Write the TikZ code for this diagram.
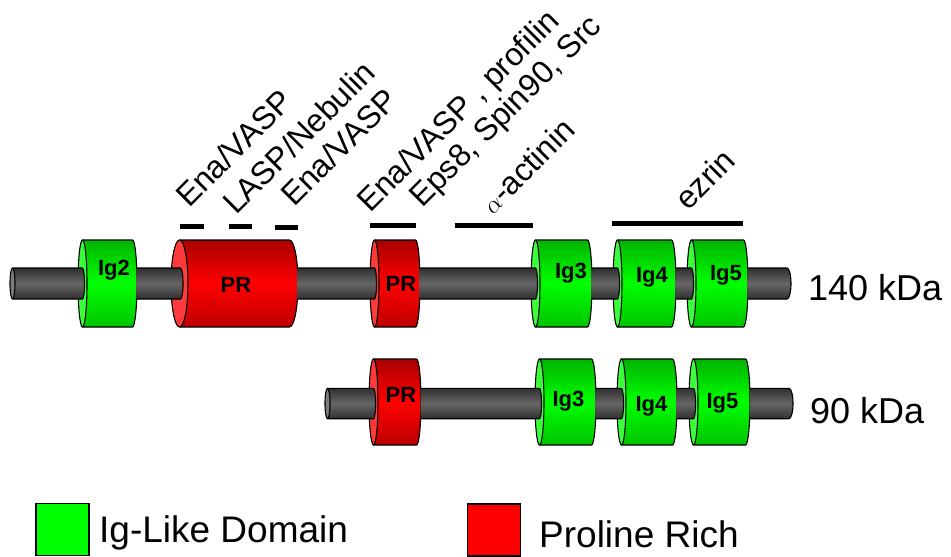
\documentclass[tikz,border=0pt]{standalone}
\usepackage{fontspec}
\setmainfont{Liberation Sans}

% palette
\definecolor{cIgFace}{HTML}{3CFF3C}
\definecolor{cIgTop}{HTML}{00B400}
\definecolor{cIgMid}{HTML}{00FF00}
\definecolor{cIgBot}{HTML}{00C400}
\definecolor{cPrFace}{HTML}{FF3A3A}
\definecolor{cPrTop}{HTML}{A80000}
\definecolor{cPrMid}{HTML}{FF0000}
\definecolor{cPrBot}{HTML}{BC0000}
\definecolor{cRodDark}{HTML}{303030}
\definecolor{cRodMid}{HTML}{666666}
\definecolor{cRodEnd}{HTML}{7C7C7C}

\tikzset{
  outl/.style={draw=black, line width=1.1pt, line join=round},
  igbody/.style={outl, top color=cIgTop, bottom color=cIgBot, middle color=cIgMid},
  igface/.style={outl, fill=cIgFace},
  prbody/.style={outl, top color=cPrTop, bottom color=cPrBot, middle color=cPrMid},
  prface/.style={outl, fill=cPrFace},
  rodfill/.style={top color=cRodDark, bottom color=cRodDark, middle color=cRodMid},
  rodface/.style={outl, fill=cRodEnd},
  bar/.style={line width=5pt},
  domlabel/.style={inner sep=0pt, font=\fontsize{22}{25}\selectfont\bfseries},
  partner/.style={inner sep=0pt, rotate=45, anchor=base west, font=\fontsize{32}{36}\selectfont},
  sizelabel/.style={inner sep=0pt, anchor=base west, font=\fontsize{36}{40}\selectfont},
  keylabel/.style={inner sep=0pt, anchor=base west, font=\fontsize{37}{41}\selectfont},
  legendbox/.style={draw=black, line width=1.3pt, minimum width=53pt, minimum height=52pt, inner sep=0pt},
}

% a domain cylinder: kind, left face x, right face x, centre y, half height, face x radius
\newcommand\domaincyl[6]{%
  \path[#1body] (#2,#4-#5) -- (#3,#4-#5)
    arc[start angle=90, end angle=-90, x radius=#6pt, y radius=#5pt]
    -- (#2,#4+#5) -- cycle;
  \path[#1face] (#2,#4) ellipse[x radius=#6pt, y radius=#5pt];
}

% a piece of the backbone rod: start x, end x, centre y, half thickness, end-cap x radius
\newcommand\rodpiece[5]{%
  \path[rodfill] (#1,#3-#4) -- (#2,#3-#4)
    arc[start angle=90, end angle=-90, x radius=#5pt, y radius=#4pt]
    -- (#1,#3+#4) -- cycle;
  \draw[outl] (#1,#3-#4) -- (#2,#3-#4)
    arc[start angle=90, end angle=-90, x radius=#5pt, y radius=#4pt]
    -- (#1,#3+#4);
}

\begin{document}
\begin{tikzpicture}[x=1pt, y=-1pt]
\useasboundingbox (0,0) rectangle (951,557);

% ---------------- 140 kDa isoform ----------------
\domaincyl{ig}{82.5}{132.5}{283.5}{43.5}{4.5}
\domaincyl{pr}{179.5}{289.5}{283.5}{43.5}{8.5}
\domaincyl{pr}{374.5}{415.5}{283.5}{43.5}{4.5}
\domaincyl{ig}{535.5}{587.5}{283.5}{43.5}{4.5}
\domaincyl{ig}{617.5}{671.5}{283.5}{43.5}{4.5}
\domaincyl{ig}{691.5}{743.5}{283.5}{43.5}{4.5}

\rodpiece{12.5}{82.5}{283.5}{15.5}{2}
\path[rodface] (12.5,283.5) ellipse[x radius=2.5pt, y radius=15.5pt];
\rodpiece{136.7}{180.5}{283.5}{15.5}{2.5}
\rodpiece{297.4}{374.5}{283.5}{15.5}{2}
\rodpiece{419.7}{535.5}{283.5}{15.5}{2}
\rodpiece{591.7}{617.5}{283.5}{15.5}{2}
\rodpiece{675.7}{691.5}{283.5}{15.5}{2}
\rodpiece{747.7}{787}{283.5}{15.5}{4}

\node[domlabel] (a-ig2) at (114,270.5) {Ig2};
\node[domlabel] (a-pr1) at (236,284.5) {PR};
\node[domlabel] (a-pr2) at (401,283.5) {PR};
\node[domlabel] (a-ig3) at (571,273) {Ig3};
\node[domlabel] (a-ig4) at (652,277) {Ig4};
\node[domlabel] (a-ig5) at (726,275) {Ig5};

\node[sizelabel] (a-size) at (808,300) {140 kDa};

% ---------------- 90 kDa isoform ----------------
\domaincyl{pr}{373.5}{416.5}{402}{43}{4.5}
\domaincyl{ig}{539.5}{591.5}{402}{43}{4.5}
\domaincyl{ig}{621.5}{672.5}{402}{43}{4.5}
\domaincyl{ig}{693.5}{745.5}{402}{43}{4.5}

\rodpiece{327.5}{373.5}{403.5}{15.2}{2}
\path[rodface] (327.5,403.5) ellipse[x radius=2.5pt, y radius=15.2pt];
\rodpiece{420.7}{539.5}{403.5}{15.2}{2}
\rodpiece{595.7}{621.5}{403.5}{15.2}{2}
\rodpiece{676.7}{693.5}{403.5}{15.2}{2}
\rodpiece{749.7}{789}{403.5}{15.2}{4}

\node[domlabel] (b-pr)  at (401,395) {PR};
\node[domlabel] (b-ig3) at (568.5,401.5) {Ig3};
\node[domlabel] (b-ig4) at (651.5,406.5) {Ig4};
\node[domlabel] (b-ig5) at (722.5,403) {Ig5};

\node[sizelabel] (b-size) at (810,423) {90 kDa};

% ---------------- binding partners ----------------
\draw[bar] (180,226) -- (204,226);
\draw[bar] (229,226) -- (252,226);
\draw[bar] (275,227) -- (298,227);
\draw[bar] (370,225.5) -- (416,225.5);
\draw[bar] (455,225.5) -- (533,225.5);
\draw[bar] (612,223.5) -- (743,223.5);

\node[partner] (p-ena1)  at (189,209) {Ena/VASP};
\node[partner] (p-lasp)  at (236,216) {LASP/Nebulin};
\node[partner] (p-ena2)  at (294,208) {Ena/VASP};
\node[partner] (p-ena3)  at (370,214) {Ena/VASP , profilin};
\node[partner] (p-eps8)  at (422,209) {Eps8, Spin90, Src};
\node[partner] (p-actn)  at (493,216) {$\alpha$-actinin};
\node[partner] (p-ezrin) at (688,212) {ezrin};

% ---------------- legend ----------------
\node[legendbox, fill=cIgMid] (key-ig) at (62.5,529.5) {};
\node[keylabel] (key-ig-text) at (99,542) {Ig-Like Domain};
\node[legendbox, fill=cPrMid] (key-pr) at (494,530) {};
\node[keylabel] (key-pr-text) at (539,547) {Proline Rich};
\end{tikzpicture}
\end{document}
